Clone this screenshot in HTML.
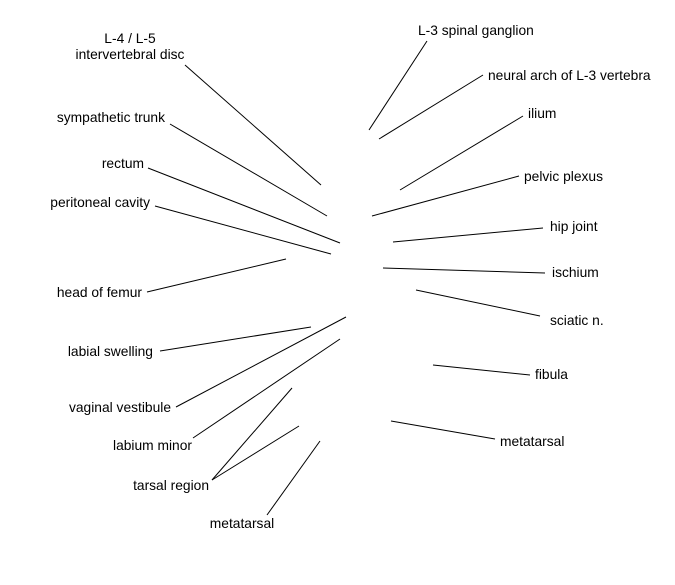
<!DOCTYPE html>
<html><head><meta charset="utf-8"><style>
html,body{margin:0;padding:0;background:#fff;}
svg text{font-family:"Liberation Sans",Arial,sans-serif;font-size:13.8px;fill:#000;}
</style></head><body>
<svg width="675" height="580" viewBox="0 0 675 580" xmlns="http://www.w3.org/2000/svg">
<g stroke="#000" stroke-width="1" fill="none">
<line x1="185" y1="65" x2="321" y2="185"/>
<line x1="170" y1="124" x2="327" y2="216"/>
<line x1="148" y1="168" x2="340" y2="243"/>
<line x1="155" y1="206" x2="331" y2="254"/>
<line x1="147" y1="292" x2="286" y2="259"/>
<line x1="160" y1="351" x2="311" y2="327"/>
<line x1="176" y1="407" x2="346" y2="317"/>
<line x1="193" y1="438" x2="340" y2="339"/>
<line x1="212" y1="480" x2="292" y2="388"/>
<line x1="212" y1="480" x2="299" y2="426"/>
<line x1="267" y1="515" x2="320" y2="441"/>
<line x1="427" y1="41" x2="369" y2="130"/>
<line x1="483" y1="75" x2="379" y2="139"/>
<line x1="523" y1="116" x2="400" y2="190"/>
<line x1="519" y1="176" x2="372" y2="216"/>
<line x1="543" y1="228" x2="393" y2="242"/>
<line x1="545" y1="273" x2="383" y2="268"/>
<line x1="540" y1="316" x2="416" y2="290"/>
<line x1="530" y1="375" x2="433" y2="365"/>
<line x1="495" y1="439" x2="391" y2="421"/>
</g>
<text x="130" y="43" text-anchor="middle">L-4 / L-5</text>
<text x="130" y="59" text-anchor="middle">intervertebral disc</text>
<text x="165" y="122" text-anchor="end">sympathetic trunk</text>
<text x="144" y="168" text-anchor="end">rectum</text>
<text x="150" y="207" text-anchor="end">peritoneal cavity</text>
<text x="142" y="297" text-anchor="end">head of femur</text>
<text x="153" y="356" text-anchor="end">labial swelling</text>
<text x="171" y="412" text-anchor="end">vaginal vestibule</text>
<text x="192" y="450" text-anchor="end">labium minor</text>
<text x="209" y="490" text-anchor="end">tarsal region</text>
<text x="242" y="528" text-anchor="middle">metatarsal</text>
<text x="418" y="35">L-3 spinal ganglion</text>
<text x="488" y="80">neural arch of L-3 vertebra</text>
<text x="528" y="118">ilium</text>
<text x="524" y="181">pelvic plexus</text>
<text x="550" y="231">hip joint</text>
<text x="552" y="277">ischium</text>
<text x="550" y="325">sciatic n.</text>
<text x="535" y="379">fibula</text>
<text x="500" y="446">metatarsal</text>
</svg>
</body></html>
